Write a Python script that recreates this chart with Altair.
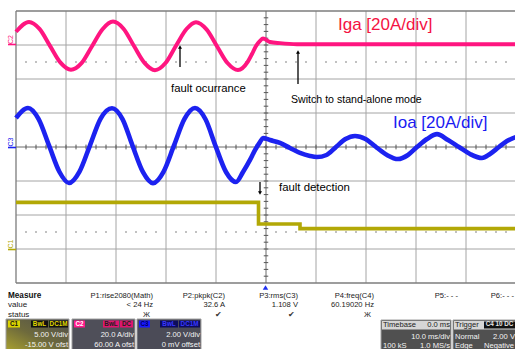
import altair as alt
import numpy as np
import pandas as pd

# ---------------- waveform readings ----------------
# time in ms (10 ms/div, trigger at t = 0); currents in A (20 A/div); C1 in V (5 V/div)
IGA_T = [-50.0, -47.4, -45.3, -43.2, -41.1, -39.0, -36.9, -34.8, -32.7, -30.6, -28.5, -26.4,
         -24.3, -22.2, -20.1, -18.0, -15.9, -14.0, -11.9, -9.8, -7.7, -5.6, -3.6, -2.8,
         -2.0, -1.2, -0.6, 0.8, 2.8, 6.2, 50.0]
IGA_A = [7.8, 13.6, 9.5, -0.5, -10.4, -14.6, -10.7, -0.7, 9.3, 13.8, 9.6, -0.6,
         -10.5, -14.8, -10.6, -0.4, 9.4, 13.4, 9.2, -0.7, -10.6, -14.7, -9.6, -5.3,
         -0.6, 2.4, 3.8, 1.8, 1.1, 0.5, 0.4]

IOA_T = [-50.0, -47.6, -45.5, -43.4, -41.3, -39.4, -37.3, -35.2, -33.1, -30.8, -28.7, -26.7,
         -24.6, -22.6, -20.5, -18.4, -16.3, -14.2, -12.1, -10.1, -8.0, -6.0, -4.6, -3.2,
         -2.2, -1.2, -0.6, 0.8, 2.8, 4.8, 6.8, 8.8, 10.2, 12.1, 14.0, 15.9, 17.8, 19.9,
         22.0, 24.2, 26.4, 28.4, 30.2, 32.2, 34.2, 36.4, 38.6, 40.8, 43.2, 44.8, 46.6,
         48.2, 50.0]
IOA_A = [17.1, 22.9, 16.5, 0.9, -14.7, -21.2, -14.5, 1.0, 16.6, 22.8, 16.4, 0.8,
         -14.8, -21.3, -14.6, 0.9, 16.5, 22.9, 16.3, 0.7, -14.7, -20.6, -14.7, -7.6,
         -1.8, 2.9, 5.3, 4.1, 2.4, -0.6, -3.5, -5.3, -5.9, -4.7, 0.0, 4.7, 6.5, 4.7,
         0.0, -4.7, -7.1, -4.7, 0.0, 4.7, 7.6, 4.1, 0.0, -4.1, -6.5, -4.1, 0.0,
         3.5, 5.9]

C1_T = [-50.0, -1.5, -1.5, 6.8, 6.8, 50.0]
C1_V = [6.85, 6.85, 3.68, 3.68, 3.0, 3.0]

# channel settings (per division) and screen offsets (divisions)
IGA_PER_DIV, IGA_OFS = 20.0, 3.0
IOA_PER_DIV, IOA_OFS = 20.0, 0.0
C1_PER_DIV, C1_OFS = 5.0, -3.0

# ---------------- texts ----------------
ANNOT_TEXT = ["fault ocurrance", "Switch to stand-alone mode", "fault detection"]
TRACE_LABELS = ["Iga [20A/div]", "Ioa [20A/div]"]
MEAS_HEAD = ["P1:rise2080(Math)", "P2:pkpk(C2)", "P3:rms(C3)", "P4:freq(C4)", "P5:- - -", "P6:- - -"]
MEAS_VAL = ["< 24 Hz", "32.6 A", "1.108 V", "60.19020 Hz", "", ""]
MEAS_STAT = ["Ж", "✔", "✔", "Ж", "", ""]
ROW_LABELS = ["Measure", "value", "status"]
CH_DIV = ["5.00 V/div", "20.0 A/div", "2.00 V/div"]
CH_OFS = ["-15.00 V ofst", "60.00 A ofst", "0 mV offset"]

PINK = "#FF1580"
BLUE = "#1C22F0"
OLIVE = "#B2A806"

# ---------------- screen geometry ----------------
W, H = 515, 349
X0, Y0 = 266.0, 147.0        # pixel of t = 0 and of the centre line
PX_MS, PX_DIV = 5.0, 34.0


def tx(px):
    return (px - X0) / PX_MS


def vy(py):
    return (Y0 - py) / PX_DIV


XS = alt.Scale(domain=[tx(0), tx(W)], nice=False, zero=False)
YS = alt.Scale(domain=[vy(H), vy(0)], nice=False, zero=False)


def X(f):
    return alt.X(f, type="quantitative", scale=XS, axis=None)


def Y(f):
    return alt.Y(f, type="quantitative", scale=YS, axis=None)


layers = []

# ---------------- graticule ----------------
gv = pd.DataFrame({"x0": np.arange(-40, 50, 10, dtype=float)})
gv = gv[gv.x0 != 0]
gv["x1"], gv["y0"], gv["y1"] = gv.x0, -4.0, 4.0
gh = pd.DataFrame({"y0": np.arange(-3, 4, 1, dtype=float)})
gh = gh[gh.y0 != 0]
gh["y1"], gh["x0"], gh["x1"] = gh.y0, -50.0, 50.0
grid = pd.concat([gv, gh])
layers.append(alt.Chart(grid).mark_rule(color="#a4a4a4", strokeWidth=1).encode(
    x=X("x0"), x2="x1", y=Y("y0"), y2="y1"))

frame = pd.DataFrame({"x0": [-50, -50, -50, 50], "x1": [-50, 50, 50, 50],
                      "y0": [-4, 4, -4, -4], "y1": [4, 4, -4, 4]}).astype(float)
layers.append(alt.Chart(frame).mark_rule(color="#7c7c7c", strokeWidth=1.3).encode(
    x=X("x0"), x2="x1", y=Y("y0"), y2="y1"))

centre = pd.DataFrame({"x0": [-50.0, 0.0], "x1": [50.0, 0.0], "y0": [0.0, -4.0], "y1": [0.0, 4.0]})
layers.append(alt.Chart(centre).mark_rule(color="#6a6a6a", strokeWidth=1).encode(
    x=X("x0"), x2="x1", y=Y("y0"), y2="y1"))

ht = pd.DataFrame({"x0": np.arange(-48, 50, 2, dtype=float)})
ht["x1"], ht["y0"], ht["y1"] = ht.x0, -0.07, 0.07
vt = pd.DataFrame({"y0": np.arange(-3.8, 4.0, 0.2)})
vt["y1"], vt["x0"], vt["x1"] = vt.y0, -0.45, 0.45
layers.append(alt.Chart(pd.concat([ht, vt])).mark_rule(color="#555555", strokeWidth=1).encode(
    x=X("x0"), x2="x1", y=Y("y0"), y2="y1"))

dt = np.arange(-48, 50, 2, dtype=float)
dt = dt[np.mod(dt, 10) != 0]
dots = pd.DataFrame({"t": np.concatenate([dt, dt]),
                     "v": np.concatenate([np.full(len(dt), 2.5), np.full(len(dt), -2.5)])})
layers.append(alt.Chart(dots).mark_square(size=2, color="#8a8a8a", opacity=1).encode(
    x=X("t"), y=Y("v")))

# ---------------- traces ----------------
iga = pd.DataFrame({"t": IGA_T, "v": [IGA_OFS + a / IGA_PER_DIV for a in IGA_A]})
ioa = pd.DataFrame({"t": IOA_T, "v": [IOA_OFS + a / IOA_PER_DIV for a in IOA_A]})
c1 = pd.DataFrame({"t": C1_T, "v": [C1_OFS + u / C1_PER_DIV for u in C1_V]})
for d in (iga, ioa, c1):
    d["i"] = np.arange(len(d))

layers.append(alt.Chart(c1).mark_line(color=OLIVE, strokeWidth=3.6, interpolate="linear").encode(
    x=X("t"), y=Y("v"), order="i:Q"))
layers.append(alt.Chart(ioa).mark_line(color=BLUE, strokeWidth=4.6, interpolate="monotone").encode(
    x=X("t"), y=Y("v"), order="i:Q"))
layers.append(alt.Chart(iga).mark_line(color=PINK, strokeWidth=4.0, interpolate="monotone").encode(
    x=X("t"), y=Y("v"), order="i:Q"))

# ---------------- annotations ----------------
arrows = pd.DataFrame({"x0": [tx(180), tx(298), tx(260)], "x1": [tx(180), tx(298), tx(260)],
                       "y0": [vy(67), vy(84), vy(182)], "y1": [vy(48), vy(53), vy(193)]})
layers.append(alt.Chart(arrows).mark_rule(color="#000000", strokeWidth=1.3).encode(
    x=X("x0"), x2="x1", y=Y("y0"), y2="y1"))
heads_up = pd.DataFrame({"t": [tx(180), tx(298)], "v": [vy(47), vy(52)]})
layers.append(alt.Chart(heads_up).mark_point(shape="triangle-up", filled=True, size=16,
                                             color="#000000", opacity=1).encode(x=X("t"), y=Y("v")))
heads_dn = pd.DataFrame({"t": [tx(260)], "v": [vy(193)]})
layers.append(alt.Chart(heads_dn).mark_point(shape="triangle-down", filled=True, size=16,
                                             color="#000000", opacity=1).encode(x=X("t"), y=Y("v")))

ann = pd.DataFrame({"t": [tx(171), tx(291), tx(279)], "v": [vy(89), vy(100), vy(188)],
                    "txt": ANNOT_TEXT, "fs": [11.3, 10.6, 11.4]})
layers.append(alt.Chart(ann).mark_text(align="left", baseline="middle", font="Liberation Sans",
                                       color="#000000").encode(
    x=X("t"), y=Y("v"), text="txt:N", size=alt.Size("fs:Q", scale=None)))

lab = pd.DataFrame({"t": [tx(338), tx(393)], "v": [vy(25), vy(123)], "txt": TRACE_LABELS,
                    "col": ["#F41242", "#1A1AF2"]})
layers.append(alt.Chart(lab).mark_text(align="left", baseline="middle", font="Liberation Sans",
                                       fontSize=17).encode(
    x=X("t"), y=Y("v"), text="txt:N", color=alt.Color("col:N", scale=None)))

# channel ground markers
mk = pd.DataFrame({"x0": [tx(8)] * 3, "x1": [tx(16)] * 3,
                   "y0": [vy(44.5), vy(147.5), vy(249.5)], "col": [PINK, BLUE, OLIVE]})
layers.append(alt.Chart(mk).mark_rule(strokeWidth=1.6).encode(
    x=X("x0"), x2="x1", y=Y("y0"), color=alt.Color("col:N", scale=None)))
mkt = pd.DataFrame({"t": [tx(10.5)] * 3, "v": [vy(39.5), vy(142), vy(244)],
                    "txt": ["C2", "C3", "C1"], "col": [PINK, BLUE, OLIVE]})
layers.append(alt.Chart(mkt).mark_text(angle=270, fontSize=7, font="Liberation Sans",
                                       baseline="middle", align="center").encode(
    x=X("t"), y=Y("v"), text="txt:N", color=alt.Color("col:N", scale=None)))

# trigger position marker
trig = pd.DataFrame({"t": [tx(265.5)], "v": [vy(287.5)]})
layers.append(alt.Chart(trig).mark_point(shape="triangle-up", filled=True, size=30,
                                         color="#2030F0", opacity=1).encode(x=X("t"), y=Y("v")))

# ---------------- measurement panel ----------------
FS = 7.6
col_right = [153, 225, 298, 374, 458, 514]
mrows = []
for i in range(6):
    mrows.append((col_right[i], 295.5, MEAS_HEAD[i], "#1a1a1a"))
    if MEAS_VAL[i]:
        mrows.append((col_right[i], 305, MEAS_VAL[i], "#1a1a1a"))
    if MEAS_STAT[i]:
        mrows.append((col_right[i] - 3, 314.5, MEAS_STAT[i], "#333333"))
rt = pd.DataFrame(mrows, columns=["px", "py", "txt", "col"])
rt["t"], rt["v"] = tx(rt.px), vy(rt.py)

lt = pd.DataFrame({"px": [8, 8], "py": [305, 314.5], "txt": ROW_LABELS[1:], "col": ["#1a1a1a"] * 2})
lt["t"], lt["v"] = tx(lt.px), vy(lt.py)
bt = pd.DataFrame({"px": [8], "py": [295.5], "txt": ROW_LABELS[:1], "col": ["#111111"]})
bt["t"], bt["v"] = tx(bt.px), vy(bt.py)

# boxes
boxes = pd.DataFrame([
    (72, 135, 319, 350, "#4f4f59"),
    (137, 201, 319, 350, "#4b4b57"),
    (381, 451, 320, 350, "#505050"),
    (453, 516, 320, 350, "#505050"),
], columns=["a", "b", "c", "d", "col"])
heads = pd.DataFrame([
    (382, 450, 321, 329.5, "#d6d6d6"),
    (454, 515, 321, 329.5, "#d6d6d6"),
], columns=["a", "b", "c", "d", "col"])
tags = pd.DataFrame([
    (8, 20, 320.5, 327.5, "#dcd400"),
    (31, 48, 320.5, 327.5, "#111111"),
    (49, 68, 320.5, 327.5, "#111111"),
    (74, 85, 320.5, 327.5, "#ff1a8c"),
    (103, 119, 320.5, 327.5, "#e0156e"),
    (120, 133, 320.5, 327.5, "#e0156e"),
    (139, 150, 320.5, 327.5, "#1818ff"),
    (160, 178, 320.5, 327.5, "#0c0c5c"),
    (179, 200, 320.5, 327.5, "#0c0c5c"),
    (484, 515, 321.5, 328.5, "#111111"),
], columns=["a", "b", "c", "d", "col"])
for d in (boxes, heads, tags):
    d["x0"], d["x1"], d["y0"], d["y1"] = tx(d.a), tx(d.b), vy(d.c), vy(d.d)

c1box = pd.DataFrame({"x0": [tx(6)], "x1": [tx(69)], "y0": [vy(319)], "y1": [vy(350)]})
layers.append(alt.Chart(c1box).mark_rect(
    stroke="#a0a0a0", strokeWidth=1,
    fill=alt.Gradient(gradient="linear", x1=0, y1=1, x2=1, y2=0,
                      stops=[alt.GradientStop(color="#a8a030", offset=0),
                             alt.GradientStop(color="#6e6a3c", offset=0.45),
                             alt.GradientStop(color="#4e4e4e", offset=1)])).encode(
    x=X("x0"), x2="x1", y=Y("y0"), y2="y1"))
layers.append(alt.Chart(boxes).mark_rect(stroke="#a0a0a0", strokeWidth=1).encode(
    x=X("x0"), x2="x1", y=Y("y0"), y2="y1", fill=alt.Fill("col:N", scale=None)))
layers.append(alt.Chart(heads).mark_rect().encode(
    x=X("x0"), x2="x1", y=Y("y0"), y2="y1", fill=alt.Fill("col:N", scale=None)))
layers.append(alt.Chart(tags).mark_rect().encode(
    x=X("x0"), x2="x1", y=Y("y0"), y2="y1", fill=alt.Fill("col:N", scale=None)))

tagtxt = pd.DataFrame([
    (14, "C1", "#111111"), (39.5, "BwL", "#e0d800"), (58.5, "DC1M", "#e0d800"),
    (79.5, "C2", "#ffffff"), (111, "BwL", "#202020"), (126.5, "DC", "#202020"),
    (144.5, "C3", "#000060"), (169, "BwL", "#3838ff"), (189.5, "DC1M", "#3838ff"),
    (499.5, "C4 10 DC", "#e8e8e8"),
], columns=["px", "txt", "col"])
tagtxt["t"], tagtxt["v"] = tx(tagtxt.px), vy(324.2)
layers.append(alt.Chart(tagtxt).mark_text(fontSize=6.3, font="Liberation Sans", fontWeight="bold",
                                          align="center", baseline="middle").encode(
    x=X("t"), y=Y("v"), text="txt:N", color=alt.Color("col:N", scale=None)))

# white box texts (right aligned)
wr = [(68, 335, CH_DIV[0]), (68, 345, CH_OFS[0]),
      (134, 335, CH_DIV[1]), (134, 345, CH_OFS[1]),
      (200, 335, CH_DIV[2]), (200, 345, CH_OFS[2]),
      (450, 337, "10.0 ms/div"), (450, 345.5, "1.0 MS/s"),
      (515, 337, "2.00 V")]
wrt = pd.DataFrame(wr, columns=["px", "py", "txt"])
wrt["col"] = "#f4f4f4"
wrt["t"], wrt["v"] = tx(wrt.px), vy(wrt.py)
wl = [(383, 345.5, "100 kS"), (455, 337, "Normal"), (455, 345.5, "Edge"), (484, 345.5, "Negative")]
wlt = pd.DataFrame(wl, columns=["px", "py", "txt"])
wlt["col"] = "#f4f4f4"
wlt["t"], wlt["v"] = tx(wlt.px), vy(wlt.py)
dk = pd.DataFrame([(383, 325, "Timebase"), (455, 325, "Trigger")], columns=["px", "py", "txt"])
dk["col"] = "#222222"
dk["t"], dk["v"] = tx(dk.px), vy(dk.py)
dkr = pd.DataFrame({"px": [450], "py": [325], "txt": ["0.0 ms"], "col": ["#222222"]})
dkr["t"], dkr["v"] = tx(dkr.px), vy(dkr.py)

for d, al, wgt, fs in ((rt, "right", "normal", FS), (lt, "left", "normal", 8.0),
                       (bt, "left", "bold", 8.2),
                       (wrt, "right", "normal", FS), (wlt, "left", "normal", FS),
                       (dk, "left", "normal", FS), (dkr, "right", "normal", FS)):
    layers.append(alt.Chart(d).mark_text(align=al, baseline="middle", fontSize=fs,
                                         font="Liberation Sans", fontWeight=wgt).encode(
        x=X("t"), y=Y("v"), text="txt:N", color=alt.Color("col:N", scale=None)))

chart = alt.layer(*layers).properties(
    width=W, height=H, padding=0,
    autosize=alt.AutoSizeParams(type="none"),
    background="#ffffff",
).configure_view(stroke=None)

chart.save("out.html", embed_options={"renderer": "svg", "actions": False})
